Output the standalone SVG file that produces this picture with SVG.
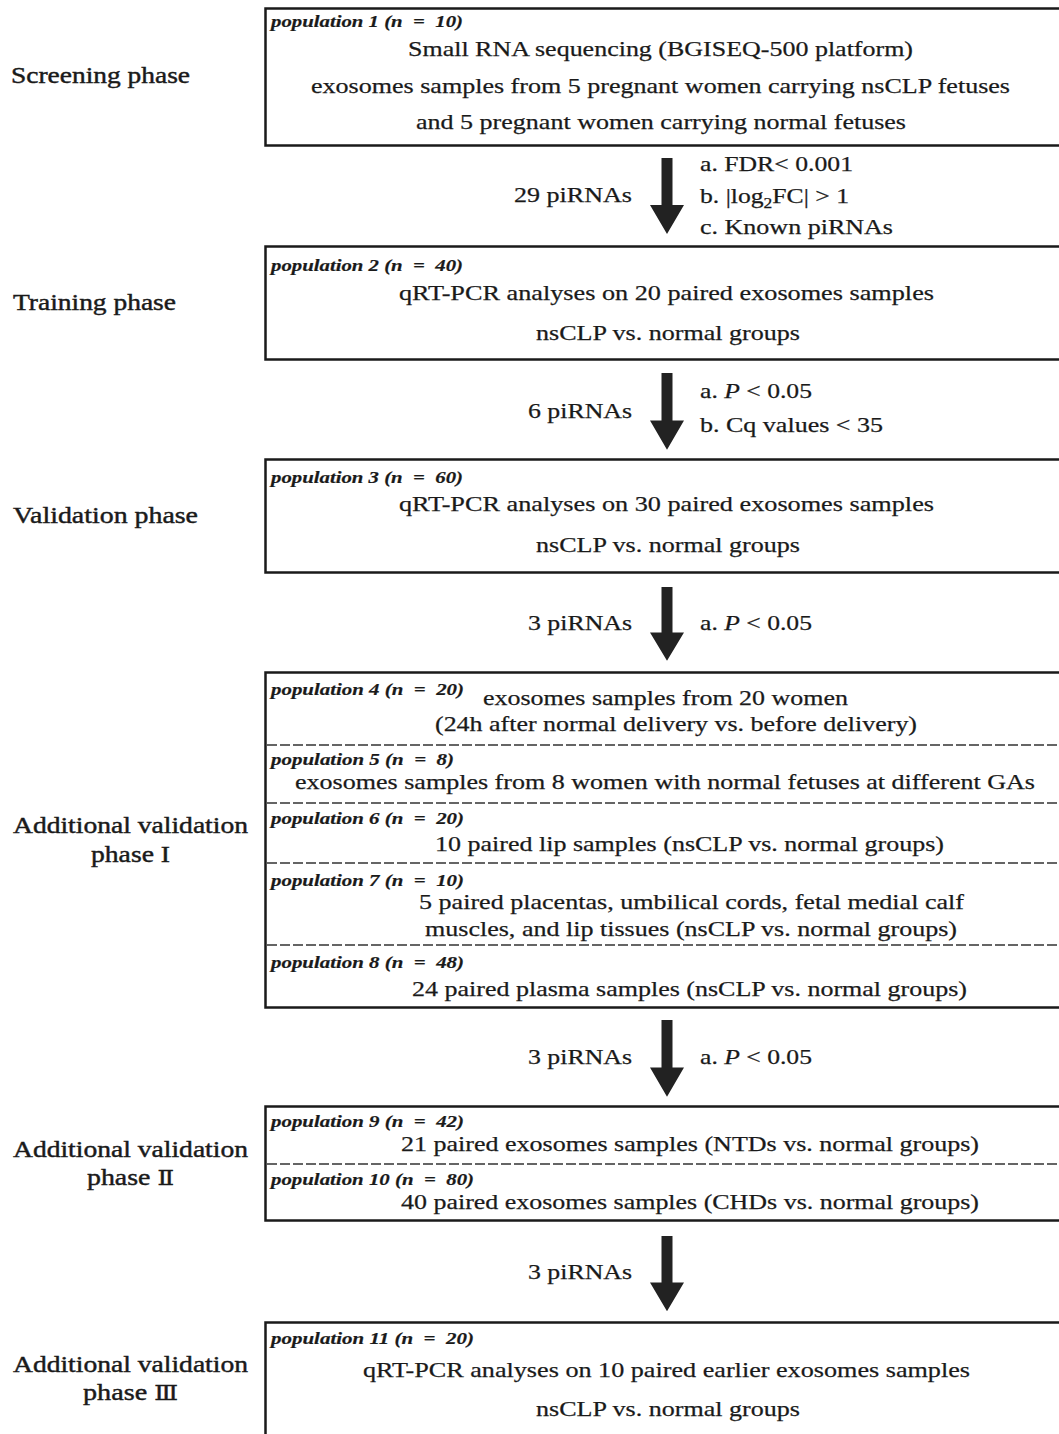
<svg xmlns="http://www.w3.org/2000/svg" width="1059" height="1434" viewBox="0 0 1059 1434">
<style>
text{font-family:"Liberation Serif","Times New Roman",serif;fill:#1a1a1a;stroke:#1a1a1a;stroke-width:0.25}
.ph{font-size:24px;stroke-width:0.45}
.bx{font-size:22px}
.pop{font-size:17px;font-weight:bold;font-style:italic;stroke-width:0.2}
.rn{font-family:"DejaVu Serif",serif;font-size:21px}
.box{fill:#fff;stroke:#1a1a1a;stroke-width:2.5}
.dash{stroke:#333;stroke-width:1.5;stroke-dasharray:10 3;fill:none}
.arr{fill:#222}
</style>
<defs>
<path id="arrow" d="M-5.5,0 H5.5 V47 H17 L0,76 L-17,47 H-5.5 Z"/>
</defs>
<rect width="1059" height="1434" fill="#fff"/>

<g id="phase-labels">
<text class="ph" x="11" y="83" textLength="179" lengthAdjust="spacingAndGlyphs">Screening phase</text>
<text class="ph" x="13" y="310" textLength="163" lengthAdjust="spacingAndGlyphs">Training phase</text>
<text class="ph" x="13" y="523" textLength="185" lengthAdjust="spacingAndGlyphs">Validation phase</text>
<text class="ph" x="13" y="833" textLength="235" lengthAdjust="spacingAndGlyphs">Additional validation</text>
<text class="ph" x="91" y="862" textLength="79" lengthAdjust="spacingAndGlyphs">phase I</text>
<text class="ph" x="13" y="1157" textLength="235" lengthAdjust="spacingAndGlyphs">Additional validation</text>
<text class="ph" x="87" y="1185" textLength="87" lengthAdjust="spacingAndGlyphs">phase <tspan class="rn">Ⅱ</tspan></text>
<text class="ph" x="13" y="1372" textLength="235" lengthAdjust="spacingAndGlyphs">Additional validation</text>
<text class="ph" x="83" y="1400" textLength="95" lengthAdjust="spacingAndGlyphs">phase <tspan class="rn">Ⅲ</tspan></text>
</g>

<g id="node-pop1">
<rect class="box" x="265.5" y="8.5" width="810" height="137"/>
<text class="pop" x="271" y="27" textLength="192" lengthAdjust="spacingAndGlyphs">population 1 (n&#160;&#160;=&#160;&#160;10)</text>
<text class="bx" x="408" y="56" textLength="505" lengthAdjust="spacingAndGlyphs">Small RNA sequencing (BGISEQ-500 platform)</text>
<text class="bx" x="311" y="93" textLength="699" lengthAdjust="spacingAndGlyphs">exosomes samples from 5 pregnant women carrying nsCLP fetuses</text>
<text class="bx" x="416" y="129" textLength="490" lengthAdjust="spacingAndGlyphs">and 5 pregnant women carrying normal fetuses</text>
</g>

<g id="node-pop2">
<rect class="box" x="265.5" y="246.5" width="810" height="113"/>
<text class="pop" x="271" y="271" textLength="192" lengthAdjust="spacingAndGlyphs">population 2 (n&#160;&#160;=&#160;&#160;40)</text>
<text class="bx" x="399" y="300" textLength="535" lengthAdjust="spacingAndGlyphs">qRT-PCR analyses on 20 paired exosomes samples</text>
<text class="bx" x="536" y="340" textLength="264" lengthAdjust="spacingAndGlyphs">nsCLP vs. normal groups</text>
</g>

<g id="node-pop3">
<rect class="box" x="265.5" y="459.5" width="810" height="113"/>
<text class="pop" x="271" y="483" textLength="192" lengthAdjust="spacingAndGlyphs">population 3 (n&#160;&#160;=&#160;&#160;60)</text>
<text class="bx" x="399" y="511" textLength="535" lengthAdjust="spacingAndGlyphs">qRT-PCR analyses on 30 paired exosomes samples</text>
<text class="bx" x="536" y="552" textLength="264" lengthAdjust="spacingAndGlyphs">nsCLP vs. normal groups</text>
</g>

<g id="node-pop4-8">
<rect class="box" x="265.5" y="672.5" width="810" height="335"/>
<line class="dash" x1="267" y1="745" x2="1059" y2="745"/>
<line class="dash" x1="267" y1="803" x2="1059" y2="803"/>
<line class="dash" x1="267" y1="863" x2="1059" y2="863"/>
<line class="dash" x1="267" y1="945" x2="1059" y2="945"/>
<g id="node-pop4">
<text class="pop" x="271" y="695" textLength="193" lengthAdjust="spacingAndGlyphs">population 4 (n&#160;&#160;=&#160;&#160;20)</text>
<text class="bx" x="483" y="705" textLength="365" lengthAdjust="spacingAndGlyphs">exosomes samples from 20 women</text>
<text class="bx" x="435" y="731" textLength="482" lengthAdjust="spacingAndGlyphs">(24h after normal delivery vs. before delivery)</text>
</g>
<g id="node-pop5">
<text class="pop" x="271" y="765" textLength="183" lengthAdjust="spacingAndGlyphs">population 5 (n&#160;&#160;=&#160;&#160;8)</text>
<text class="bx" x="295" y="789" textLength="740" lengthAdjust="spacingAndGlyphs">exosomes samples from 8 women with normal fetuses at different GAs</text>
</g>
<g id="node-pop6">
<text class="pop" x="271" y="824" textLength="193" lengthAdjust="spacingAndGlyphs">population 6 (n&#160;&#160;=&#160;&#160;20)</text>
<text class="bx" x="435" y="851" textLength="509" lengthAdjust="spacingAndGlyphs">10 paired lip samples (nsCLP vs. normal groups)</text>
</g>
<g id="node-pop7">
<text class="pop" x="271" y="886" textLength="193" lengthAdjust="spacingAndGlyphs">population 7 (n&#160;&#160;=&#160;&#160;10)</text>
<text class="bx" x="419" y="909" textLength="545" lengthAdjust="spacingAndGlyphs">5 paired placentas, umbilical cords, fetal medial calf</text>
<text class="bx" x="425" y="936" textLength="532" lengthAdjust="spacingAndGlyphs">muscles, and lip tissues (nsCLP vs. normal groups)</text>
</g>
<g id="node-pop8">
<text class="pop" x="271" y="968" textLength="193" lengthAdjust="spacingAndGlyphs">population 8 (n&#160;&#160;=&#160;&#160;48)</text>
<text class="bx" x="412" y="996" textLength="555" lengthAdjust="spacingAndGlyphs">24 paired plasma samples (nsCLP vs. normal groups)</text>
</g>
</g>

<g id="node-pop9-10">
<rect class="box" x="265.5" y="1106.5" width="810" height="114"/>
<line class="dash" x1="267" y1="1164" x2="1059" y2="1164"/>
<g id="node-pop9">
<text class="pop" x="271" y="1127" textLength="193" lengthAdjust="spacingAndGlyphs">population 9 (n&#160;&#160;=&#160;&#160;42)</text>
<text class="bx" x="401" y="1151" textLength="578" lengthAdjust="spacingAndGlyphs">21 paired exosomes samples (NTDs vs. normal groups)</text>
</g>
<g id="node-pop10">
<text class="pop" x="271" y="1185" textLength="203" lengthAdjust="spacingAndGlyphs">population 10 (n&#160;&#160;=&#160;&#160;80)</text>
<text class="bx" x="401" y="1209" textLength="578" lengthAdjust="spacingAndGlyphs">40 paired exosomes samples (CHDs vs. normal groups)</text>
</g>
</g>

<g id="node-pop11">
<rect class="box" x="265.5" y="1322.5" width="810" height="140"/>
<text class="pop" x="271" y="1344" textLength="203" lengthAdjust="spacingAndGlyphs">population 11 (n&#160;&#160;=&#160;&#160;20)</text>
<text class="bx" x="363" y="1377" textLength="607" lengthAdjust="spacingAndGlyphs">qRT-PCR analyses on 10 paired earlier exosomes samples</text>
<text class="bx" x="536" y="1416" textLength="264" lengthAdjust="spacingAndGlyphs">nsCLP vs. normal groups</text>
</g>

<g id="connectors">
<use href="#arrow" class="arr" transform="translate(667,158)"/>
<use href="#arrow" class="arr" transform="translate(667,373) scale(1,1.01)"/>
<use href="#arrow" class="arr" transform="translate(667,587) scale(1,0.97)"/>
<use href="#arrow" class="arr" transform="translate(667,1020) scale(1,1.01)"/>
<use href="#arrow" class="arr" transform="translate(667,1236) scale(1,0.99)"/>
<text class="bx" x="514" y="202" textLength="118" lengthAdjust="spacingAndGlyphs">29 piRNAs</text>
<text class="bx" x="700" y="171" textLength="153" lengthAdjust="spacingAndGlyphs">a. FDR&lt; 0.001</text>
<text class="bx" x="700" y="203" textLength="149" lengthAdjust="spacingAndGlyphs">b. |log<tspan font-size="15" dy="5">2</tspan><tspan dy="-5">FC| &gt; 1</tspan></text>
<text class="bx" x="700" y="234" textLength="193" lengthAdjust="spacingAndGlyphs">c. Known piRNAs</text>
<text class="bx" x="528" y="418" textLength="104" lengthAdjust="spacingAndGlyphs">6 piRNAs</text>
<text class="bx" x="700" y="398" textLength="112" lengthAdjust="spacingAndGlyphs">a. <tspan font-style="italic">P</tspan> &lt; 0.05</text>
<text class="bx" x="700" y="432" textLength="183" lengthAdjust="spacingAndGlyphs">b. Cq values &lt; 35</text>
<text class="bx" x="528" y="630" textLength="104" lengthAdjust="spacingAndGlyphs">3 piRNAs</text>
<text class="bx" x="700" y="630" textLength="112" lengthAdjust="spacingAndGlyphs">a. <tspan font-style="italic">P</tspan> &lt; 0.05</text>
<text class="bx" x="528" y="1064" textLength="104" lengthAdjust="spacingAndGlyphs">3 piRNAs</text>
<text class="bx" x="700" y="1064" textLength="112" lengthAdjust="spacingAndGlyphs">a. <tspan font-style="italic">P</tspan> &lt; 0.05</text>
<text class="bx" x="528" y="1279" textLength="104" lengthAdjust="spacingAndGlyphs">3 piRNAs</text>
</g>
</svg>
